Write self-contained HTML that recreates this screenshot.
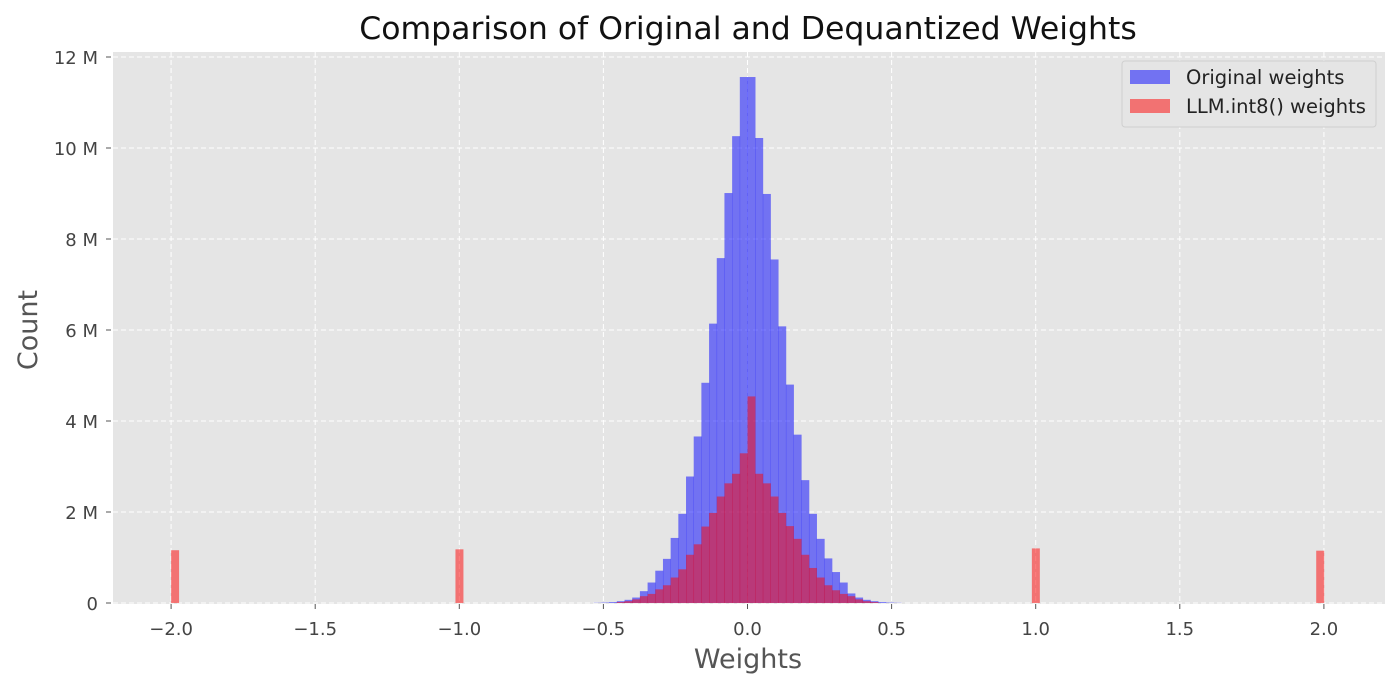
<!DOCTYPE html>
<html><head><meta charset="utf-8"><style>
body{margin:0;background:#fff;}
svg{display:block;font-family:"DejaVu Sans","Liberation Sans",sans-serif;}
</style></head><body>
<svg id="chart" width="1400" height="689">
<rect x="113" y="52" width="1272" height="552" fill="#e5e5e5"/>
<g id="grid"></g>
<g id="bars"></g>
<g id="axes"></g>
<text x="748" y="39" text-anchor="middle" font-size="31.5" fill="#111">Comparison of Original and Dequantized Weights</text>
<text x="748" y="668" text-anchor="middle" font-size="27" fill="#555">Weights</text>
<text transform="translate(37,330) rotate(-90)" text-anchor="middle" font-size="27" fill="#555">Count</text>
<g>
<rect x="1122" y="61" width="254" height="66" rx="3" fill="#e5e5e5" stroke="#cfcfcf" stroke-width="1"/>
<g>
<rect x="1130" y="70" width="40" height="14" fill="rgba(0,0,255,0.5)"/>
<text x="1186" y="84" font-size="19.5" fill="#222">Original weights</text>
</g>
<g>
<rect x="1130" y="99" width="40" height="14" fill="rgba(255,0,0,0.5)"/>
<text x="1186" y="113" font-size="19.5" fill="#222">LLM.int8() weights</text>
</g>
</g>
</svg>
<script>
// bin index k: bin k spans [k*binWidth, (k+1)*binWidth], binWidth = 4/150
const binWidth = 4/150;
const blueBins = [-20,-19,-18,-17,-16,-15,-14,-13,-12,-11,-10,-9,-8,-7,-6,-5,-4,-3,-2,-1,0,1,2,3,4,5,6,7,8,9,10,11,12,13,14,15,16,17,18,19];
const blueValues = [0.005,0.01,0.02,0.04,0.07,0.12,0.26,0.45,0.71,0.97,1.43,1.96,2.78,3.66,4.84,6.14,7.58,9.01,10.26,11.56,11.56,10.22,8.99,7.55,6.08,4.80,3.70,2.70,1.96,1.41,0.98,0.68,0.45,0.21,0.12,0.07,0.04,0.02,0.01,0.005];
const redBins = [-75,-38,-17,-16,-15,-14,-13,-12,-11,-10,-9,-8,-7,-6,-5,-4,-3,-2,-1,0,1,2,3,4,5,6,7,8,9,10,11,12,13,14,15,16,37,74];
const redValues = [1.16,1.18,0.02,0.04,0.08,0.15,0.20,0.30,0.39,0.56,0.74,1.06,1.29,1.68,1.98,2.34,2.63,2.84,3.29,4.54,2.84,2.63,2.34,1.98,1.69,1.41,1.06,0.77,0.56,0.39,0.28,0.20,0.15,0.08,0.04,0.02,1.20,1.15];
const xTicks = [-2.0,-1.5,-1.0,-0.5,0.0,0.5,1.0,1.5,2.0];
const xTickLabels = ["\u22122.0","\u22121.5","\u22121.0","\u22120.5","0.0","0.5","1.0","1.5","2.0"];
const yTicks = [0,2,4,6,8,10,12];
const yTickLabels = ["0","2 M","4 M","6 M","8 M","10 M","12 M"];

const NS="http://www.w3.org/2000/svg";
const X = v => 747.5 + v*288.2;
const Y = v => 603 - v*45.5;
function mk(tag, attrs, parent){const e=document.createElementNS(NS,tag);for(const k in attrs)e.setAttribute(k,attrs[k]);parent.appendChild(e);return e;}
const grid=document.getElementById('grid'), bars=document.getElementById('bars'), axes=document.getElementById('axes');
xTicks.forEach((t,i)=>{
  const l=mk('line',{x1:X(t),x2:X(t),y1:52,y2:604,stroke:'#fff','stroke-dasharray':'5,3','stroke-width':1},grid);
  
  
  const tk=mk('line',{x1:X(t),x2:X(t),y1:604,y2:609,stroke:'#555'},axes);
  
  
  const tx=mk('text',{x:X(t),y:635,'text-anchor':'middle','font-size':18,fill:'#444'},axes);
  tx.textContent=xTickLabels[i];
  
  
});
yTicks.forEach((t,i)=>{
  const l=mk('line',{x1:113,x2:1385,y1:Y(t),y2:Y(t),stroke:'#fff','stroke-dasharray':'5,3','stroke-width':1},grid);
  
  
  const tk=mk('line',{x1:106,x2:111,y1:Y(t),y2:Y(t),stroke:'#555'},axes);
  
  
  const tx=mk('text',{x:98,y:Y(t)+7,'text-anchor':'end','font-size':18,fill:'#444'},axes);
  tx.textContent=yTickLabels[i];
  
  
});
function drawSeries(bins, vals, color, name){
  bins.forEach((k,i)=>{
    const x0=X(k*binWidth), x1=X((k+1)*binWidth);
    const r=mk('rect',{x:x0,y:Y(vals[i]),width:x1-x0+0.3,height:Y(0)-Y(vals[i]),fill:color},bars);
    
    
  });
}
drawSeries(blueBins, blueValues, 'rgba(0,0,255,0.5)', 'original-weights-bar');
drawSeries(redBins, redValues, 'rgba(255,0,0,0.5)', 'int8-weights-bar');
</script>
</body></html>
